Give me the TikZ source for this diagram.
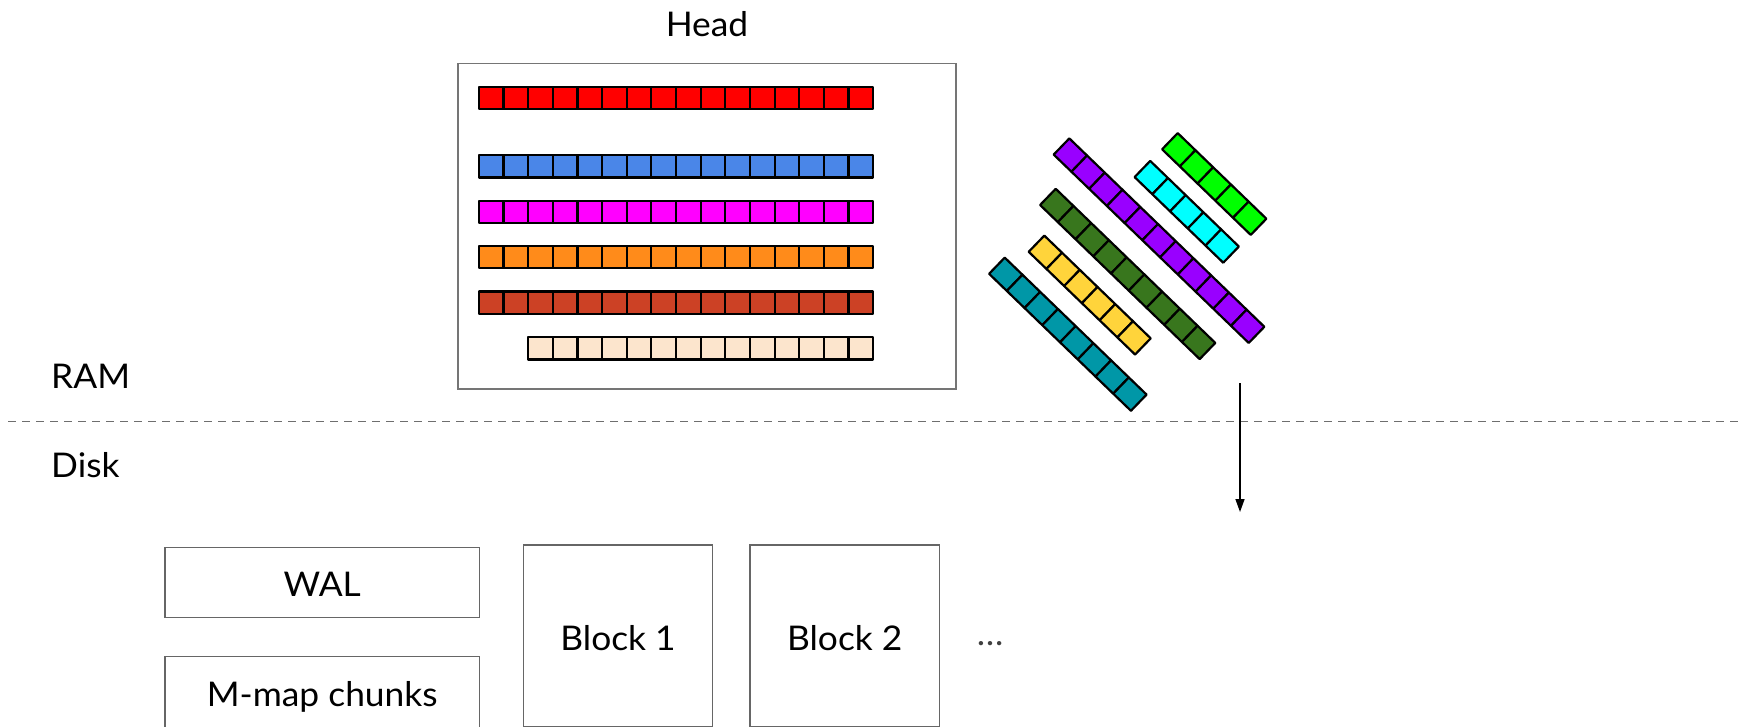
\documentclass[tikz,border=0pt]{standalone}
\usepackage{fontspec}
\setmainfont{Lato}[FakeStretch=1.04]
\usetikzlibrary{arrows.meta}
\definecolor{cRed}{HTML}{FF0000}
\definecolor{cBlue}{HTML}{4A86E8}
\definecolor{cMagenta}{HTML}{FF00FF}
\definecolor{cOrange}{HTML}{FF8B1A}
\definecolor{cBrown}{HTML}{CC4125}
\definecolor{cBeige}{HTML}{FCE5CD}
\definecolor{cPurple}{HTML}{9900FF}
\definecolor{cCyan}{HTML}{00FFFF}
\definecolor{cGreen}{HTML}{00FF00}
\definecolor{cDkGreen}{HTML}{38761D}
\definecolor{cYellow}{HTML}{FFD43B}
\definecolor{cTeal}{HTML}{0097A7}
\definecolor{boxgray}{HTML}{666666}
\definecolor{headgray}{HTML}{757575}
\definecolor{dashgray}{HTML}{6E6E6E}
\def\cellw{24.65}
\def\cellh{22.5}
\newcommand\cellrow[4]{% x-left, y-center, n, colour
  \foreach \i in {1,...,#3} {
    \draw[cell, fill=#4] ({#1+(\i-1)*\cellw}, {#2-\cellh/2}) rectangle ++(\cellw,\cellh);
  }%
}
\newcommand\diagbar[4]{% x, y of top end middle, n, colour
  \begin{scope}[shift={(#1,#2)}, rotate=-44]
    \foreach \i in {1,...,#3} {
      \draw[cell, fill=#4] ({(\i-1)*\cellw}, {-\cellh/2}) rectangle ++(\cellw,\cellh);
    }
  \end{scope}%
}
\tikzset{
  cell/.style={draw=black, line width=2.2pt, line join=round},
  box/.style={draw=boxgray, line width=1.4pt, inner sep=0pt, text height=28.5pt, text depth=0pt,
    font=\fontsize{34}{40}\selectfont},
  headbox/.style={draw=headgray, line width=1.6pt, inner sep=0pt},
  lbl/.style={font=\fontsize{34}{40}\selectfont, inner sep=0pt},
  dashline/.style={draw=dashgray, line width=1.6pt, dash pattern=on 8pt off 6pt},
  arr/.style={draw=black, line width=1.5pt, -{Triangle[length=13pt,width=9pt]}},
}
\begin{document}
\begin{tikzpicture}[x=1pt,y=-1pt]
\useasboundingbox (0,0) rectangle (1743,726);
% Head
\node[lbl, anchor=base] (headlbl) at (707,36) {Head};
\node[headbox, minimum width=498pt, minimum height=325.7pt] (head) at (707,226.2) {};
\cellrow{478.8}{98}{16}{cRed}
\cellrow{478.8}{166.3}{16}{cBlue}
\cellrow{478.8}{212}{16}{cMagenta}
\cellrow{478.8}{257}{16}{cOrange}
\cellrow{478.8}{302.8}{16}{cBrown}
\cellrow{528.1}{348.3}{14}{cBeige}
% diagonal series
\diagbar{1061.5}{146.5}{11}{cPurple}
\diagbar{1169.9}{141.2}{5}{cGreen}
\diagbar{1142.4}{169.0}{5}{cCyan}
\diagbar{1047.9}{196.9}{9}{cDkGreen}
\diagbar{1036.5}{243.7}{6}{cYellow}
\diagbar{996.9}{265.7}{8}{cTeal}
% RAM / Disk divider
\node[lbl, anchor=base west] (ram) at (51,388.3) {RAM};
\node[lbl, anchor=base west] (disk) at (51,477.3) {Disk};
\coordinate (dl) at (8,421.5);
\coordinate (dr) at (1743,421.5);
\draw[dashline] (dl) -- (dr);
% arrow
\coordinate (a1) at (1240,383);
\coordinate (a2) at (1240,512);
\draw[arr] (a1) -- (a2);
% disk contents
\node[box, minimum width=314.3pt, minimum height=70.4pt] (wal) at (322.2,582.5) {WAL};
\node[box, minimum width=314.3pt, minimum height=70.6pt] (mmap) at (322.2,692) {M-map chunks};
\node[box, minimum width=189.4pt, minimum height=182pt] (block1) at (618,636) {Block 1};
\node[box, minimum width=189.3pt, minimum height=182pt] (block2) at (844.7,636) {Block 2};
\node[lbl, anchor=base, text=black!75] (dots) at (990,645) {…};
\end{tikzpicture}
\end{document}
